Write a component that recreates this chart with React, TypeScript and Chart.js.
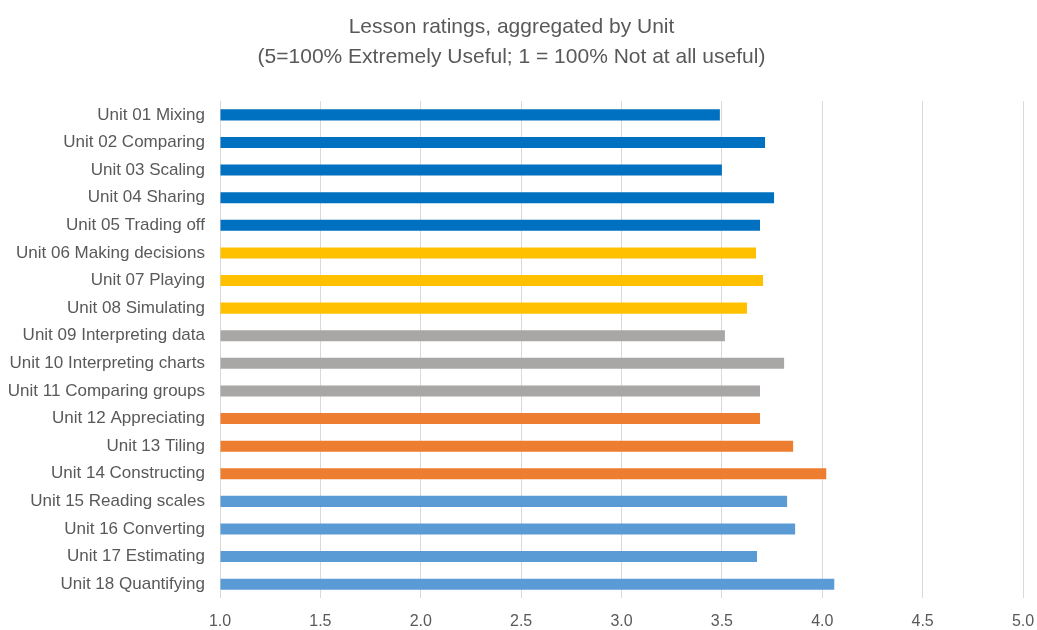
import React, { useEffect, useRef } from "react";
import { Chart, registerables } from "chart.js";

Chart.register(...registerables);

const units: string[] = [
  "Unit 01 Mixing",
  "Unit 02 Comparing",
  "Unit 03 Scaling",
  "Unit 04 Sharing",
  "Unit 05 Trading off",
  "Unit 06 Making decisions",
  "Unit 07 Playing",
  "Unit 08 Simulating",
  "Unit 09 Interpreting data",
  "Unit 10 Interpreting charts",
  "Unit 11 Comparing groups",
  "Unit 12 Appreciating",
  "Unit 13 Tiling",
  "Unit 14 Constructing",
  "Unit 15 Reading scales",
  "Unit 16 Converting",
  "Unit 17 Estimating",
  "Unit 18 Quantifying",
];

const ratings: number[] = [
  3.49, 3.715, 3.5, 3.76, 3.69, 3.67, 3.705, 3.625, 3.515, 3.81, 3.69, 3.69,
  3.855, 4.02, 3.825, 3.865, 3.675, 4.06,
];

const barColors: string[] = [
  "#0070C0", "#0070C0", "#0070C0", "#0070C0", "#0070C0",
  "#FFC000", "#FFC000", "#FFC000",
  "#A9A6A6", "#A9A6A6", "#A9A6A6",
  "#ED7D31", "#ED7D31", "#ED7D31",
  "#5B9BD5", "#5B9BD5", "#5B9BD5", "#5B9BD5",
];

const titleLines: string[] = [
  "Lesson ratings, aggregated by Unit",
  "(5=100% Extremely Useful; 1 = 100% Not at all useful)",
];

const FONT = "'Liberation Sans', 'Noto Sans', sans-serif";

export default function App() {
  const ref = useRef<HTMLCanvasElement | null>(null);
  useEffect(() => {
    if (!ref.current) return;
    const chart = new Chart(ref.current, {
      type: "bar",
      data: {
        labels: units,
        datasets: [
          {
            data: ratings,
            backgroundColor: barColors,
            borderWidth: 0,
            barPercentage: 0.4,
            categoryPercentage: 1,
            base: 1,
          },
        ],
      },
      options: {
        indexAxis: "y",
        animation: false,
        responsive: false,
        maintainAspectRatio: false,
        layout: { padding: { left: 0, right: 14, top: 12, bottom: 0 } },
        plugins: {
          legend: { display: false },
          tooltip: { enabled: false },
          title: {
            display: true,
            text: titleLines,
            color: "#595959",
            font: { family: FONT, size: 21, weight: "normal", lineHeight: 1.43 },
            padding: { top: 0, bottom: 29 },
          },
        },
        scales: {
          x: {
            type: "linear",
            min: 1,
            max: 5,
            ticks: {
              stepSize: 0.5,
              color: "#595959",
              font: { family: FONT, size: 16, lineHeight: 1 },
              padding: 16,
              callback: (v: any) => Number(v).toFixed(1),
            },
            grid: { color: "#D9D9D9", drawTicks: false, lineWidth: 1 },
            border: { display: false },
            afterFit: (scale: any) => {
              scale.paddingLeft = 0;
              scale.paddingRight = 0;
              scale.height = 32;
            },
          },
          y: {
            ticks: {
              color: "#595959",
              font: { family: FONT, size: 17 },
              padding: 15,
              autoSkip: false,
            },
            grid: { display: false, drawTicks: false },
            border: { display: false },
            afterFit: (scale: any) => {
              scale.width = 220;
              scale.paddingTop = 0;
              scale.paddingBottom = 0;
            },
          },
        },
      },
    });
    return () => chart.destroy();
  }, []);
  return (
    <div style={{ position: "fixed", left: 0, top: 0, width: 1037, height: 630, background: "#fff" }}>
      <canvas ref={ref} width={1037} height={630} />
    </div>
  );
}
